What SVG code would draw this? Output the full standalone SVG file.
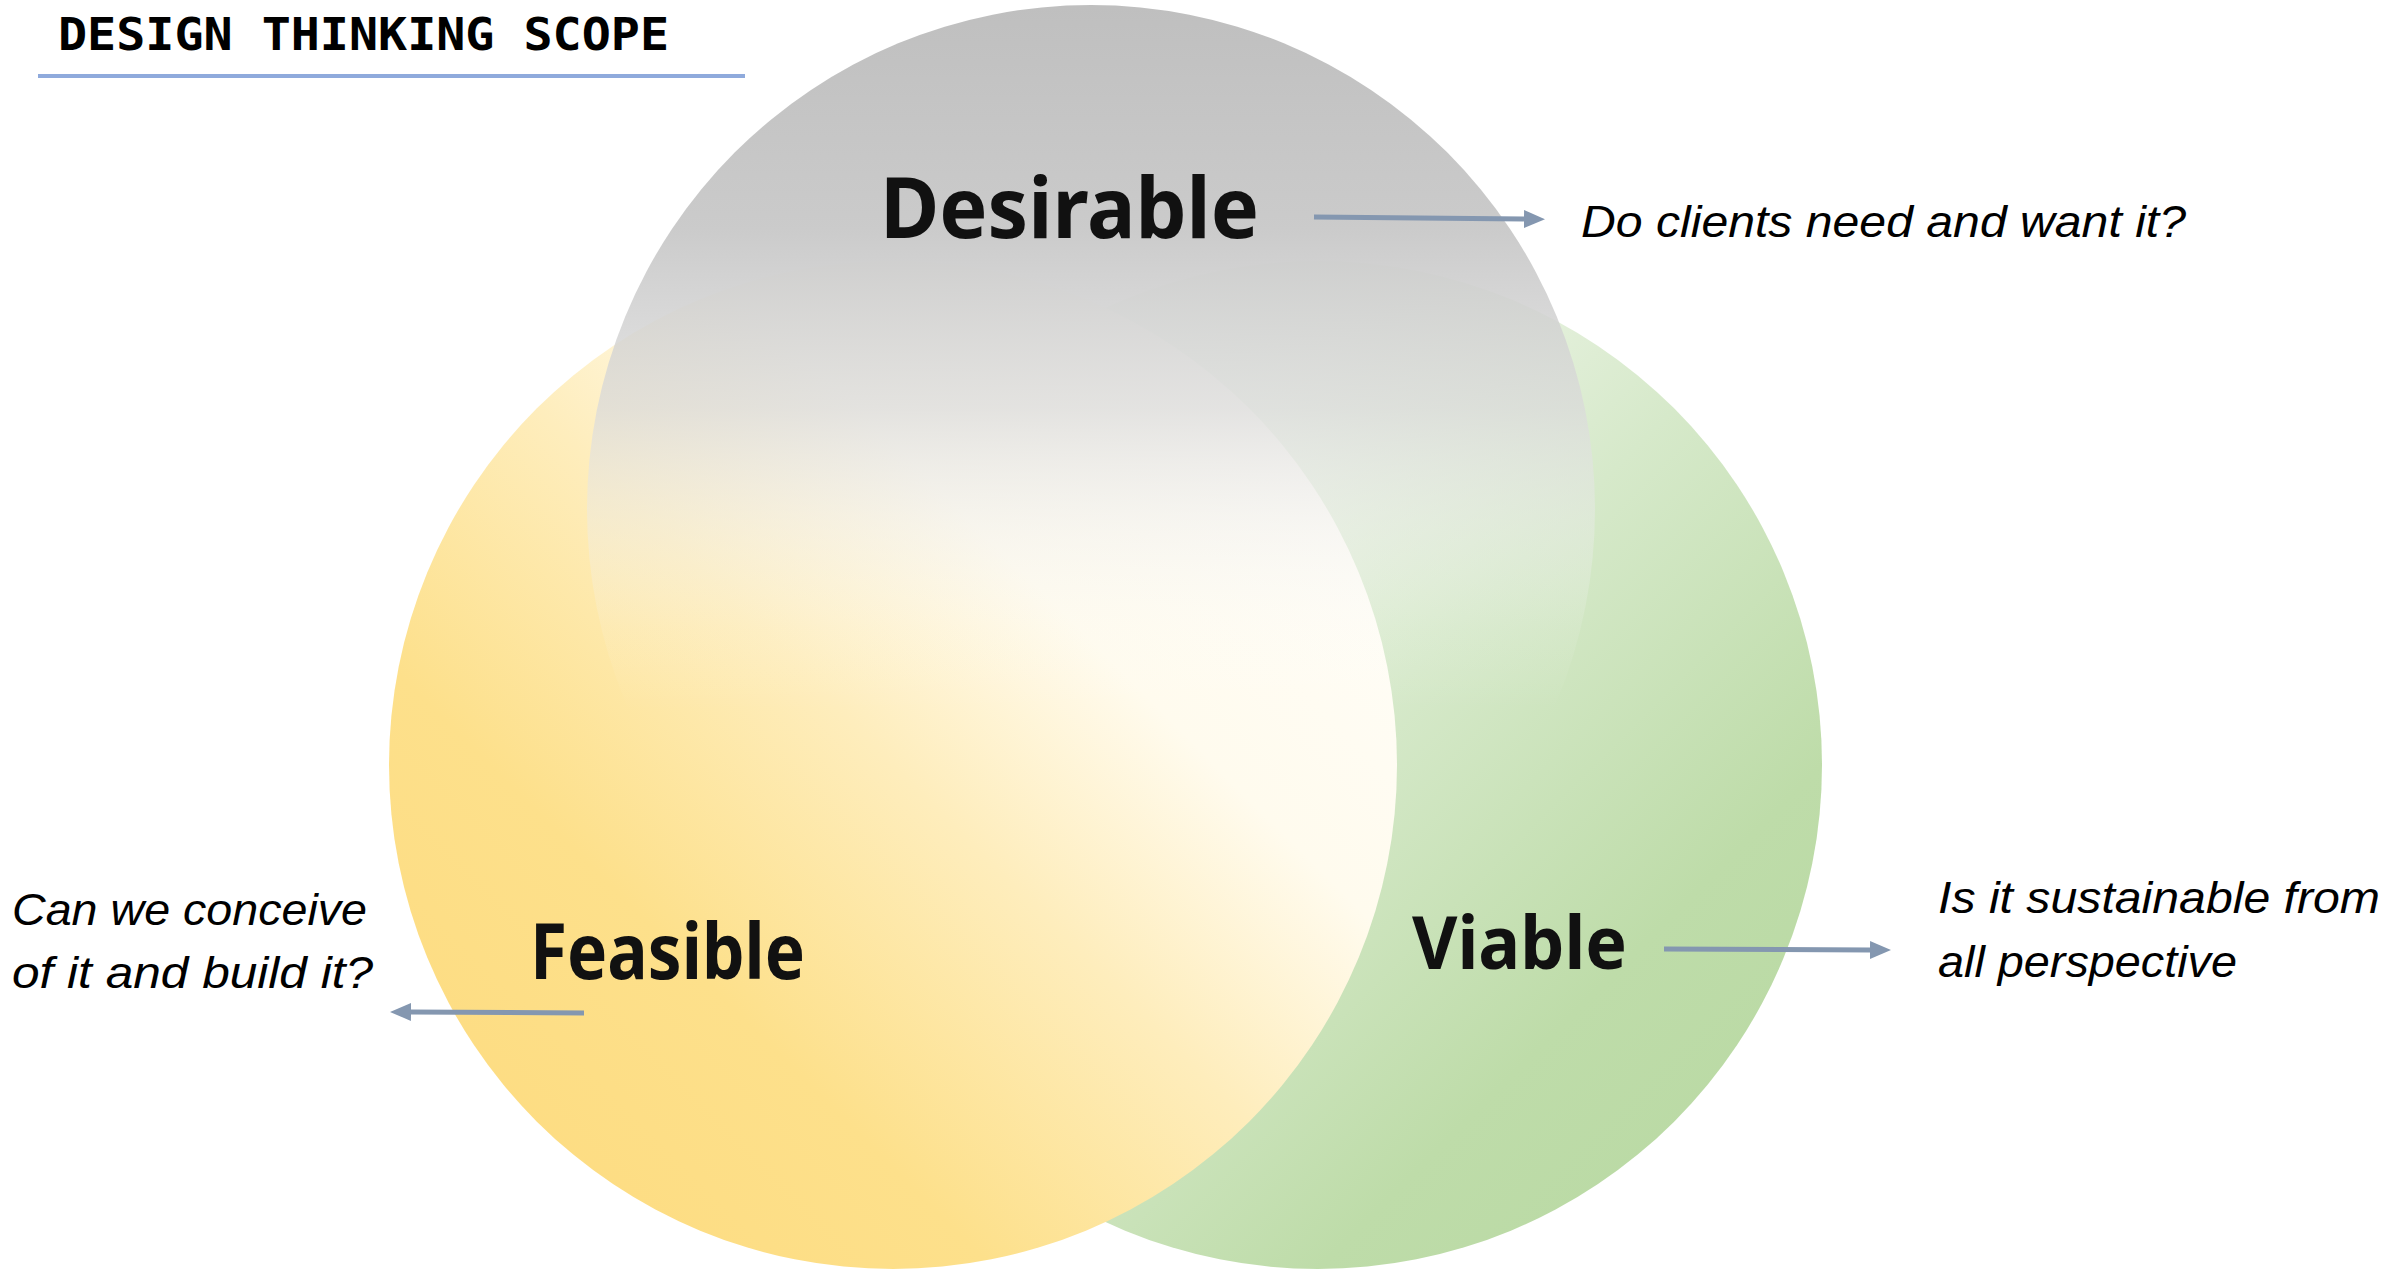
<svg xmlns="http://www.w3.org/2000/svg" width="2392" height="1273" viewBox="0 0 2392 1273">
<style>
.title{font-family:"DejaVu Sans Mono","Liberation Mono",monospace;font-weight:bold;font-size:45px;fill:#000}
.label{font-family:"Noto Sans","Liberation Sans",sans-serif;font-weight:bold;fill:#111}
.q{font-family:"Liberation Sans","Noto Sans",sans-serif;font-style:italic;font-size:44px;fill:#000}
.conn{stroke:#8497B0;stroke-width:5;fill:none}
</style>
<defs>
<linearGradient id="gYellow" x1="0" y1="1" x2="1" y2="0">
<stop offset="0" stop-color="#FDDA7C"/>
<stop offset="0.3" stop-color="#FDE08B"/>
<stop offset="0.5" stop-color="#FEEDBC"/>
<stop offset="0.66" stop-color="#FFFBEE"/>
<stop offset="1" stop-color="#FFFFFF"/>
</linearGradient>
<linearGradient id="gGreen" x1="1" y1="1" x2="0" y2="0">
<stop offset="0" stop-color="#B7D8A1"/>
<stop offset="0.25" stop-color="#BEDCA9"/>
<stop offset="0.5" stop-color="#D6E9CA"/>
<stop offset="0.7" stop-color="#EEF5E8"/>
<stop offset="1" stop-color="#FFFFFF"/>
</linearGradient>
<linearGradient id="gGray" x1="0" y1="0" x2="0" y2="1">
<stop offset="0" stop-color="#BFBFBF" stop-opacity="1"/>
<stop offset="0.22" stop-color="#C9C9C9" stop-opacity="0.97"/>
<stop offset="0.4" stop-color="#DADADA" stop-opacity="0.75"/>
<stop offset="0.52" stop-color="#ECECEC" stop-opacity="0.4"/>
<stop offset="0.62" stop-color="#F8F8F8" stop-opacity="0.12"/>
<stop offset="0.7" stop-color="#FFFFFF" stop-opacity="0"/>
</linearGradient>
<marker id="arrow" markerUnits="userSpaceOnUse" markerWidth="22" markerHeight="20" refX="0" refY="10" orient="auto">
<path d="M0,1 L21,10 L0,19 Z" fill="#8497B0"/>
</marker>
</defs>
<rect width="2392" height="1273" fill="#FFFFFF"/>
<g id="title">
<text class="title" x="58" y="50" textLength="611" lengthAdjust="spacingAndGlyphs">DESIGN THINKING SCOPE</text>
<line x1="38" y1="76" x2="745" y2="76" stroke="#8FAADC" stroke-width="4"/>
</g>
<g id="viable">
<circle cx="1318" cy="765" r="504" fill="url(#gGreen)"/>
<text class="label" x="1412" y="969" font-size="73" textLength="215" lengthAdjust="spacingAndGlyphs">Viable</text>
</g>
<g id="feasible">
<circle cx="893" cy="765" r="504" fill="url(#gYellow)"/>
<text class="label" x="530" y="979" font-size="77" textLength="275" lengthAdjust="spacingAndGlyphs">Feasible</text>
</g>
<g id="desirable">
<circle cx="1091" cy="509" r="504" fill="url(#gGray)"/>
<text class="label" x="880" y="238" font-size="84" textLength="379" lengthAdjust="spacingAndGlyphs">Desirable</text>
</g>
<g id="connectors">
<line class="conn" x1="1314" y1="217" x2="1524" y2="219" marker-end="url(#arrow)"/>
<line class="conn" x1="584" y1="1013" x2="411" y2="1012" marker-end="url(#arrow)"/>
<line class="conn" x1="1664" y1="949" x2="1870" y2="950" marker-end="url(#arrow)"/>
</g>
<g id="q-desirable">
<text class="q" x="1581" y="237" textLength="605" lengthAdjust="spacingAndGlyphs">Do clients need and want it?</text>
</g>
<g id="q-feasible">
<text class="q" x="12" y="925" textLength="355" lengthAdjust="spacingAndGlyphs">Can we conceive</text>
<text class="q" x="12" y="988" textLength="361" lengthAdjust="spacingAndGlyphs">of it and build it?</text>
</g>
<g id="q-viable">
<text class="q" x="1938" y="913" textLength="442" lengthAdjust="spacingAndGlyphs">Is it sustainable from</text>
<text class="q" x="1938" y="977" textLength="299" lengthAdjust="spacingAndGlyphs">all perspective</text>
</g>
</svg>
